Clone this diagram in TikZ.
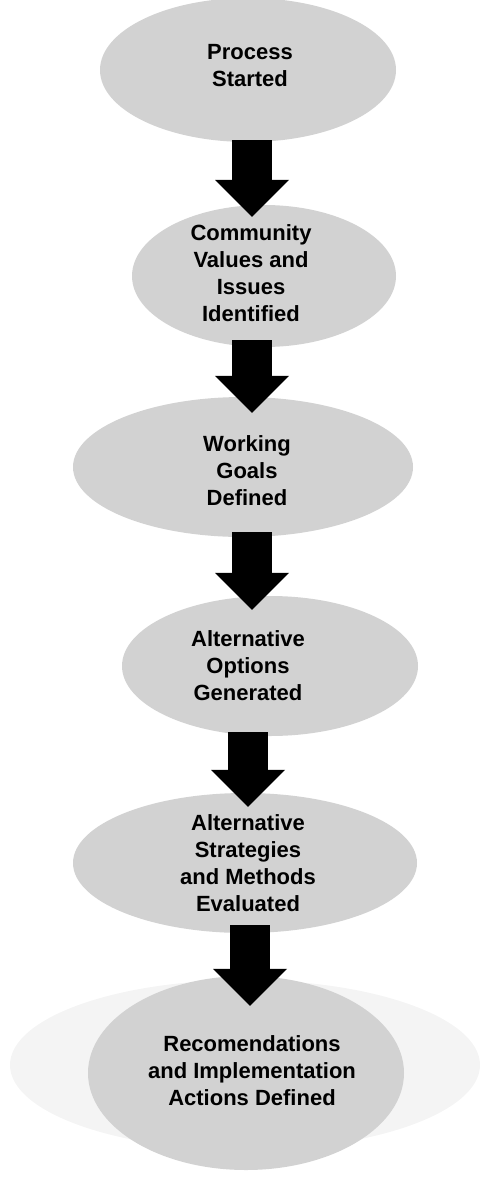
\documentclass[tikz,border=0pt]{standalone}
\usepackage{fontspec}
\setmainfont{Liberation Sans}
\usetikzlibrary{arrows.meta,shapes.geometric,calc}
\begin{document}
\begin{tikzpicture}[x=1pt,y=-1pt,
  blob/.style={ellipse, fill=gray!35, draw=none, inner sep=0pt},
  halo/.style={ellipse, fill=gray!9, draw=none, inner sep=0pt},
  steptext/.style={align=center, font=\bfseries\fontsize{22}{27}\selectfont, inner sep=0pt, text=black},
  bigarrow/.style={draw=black, line width=40pt, line cap=butt, -{Triangle[width=74pt,length=37pt,line width=0pt]}}]
\useasboundingbox (0,0) rectangle (482,1183);
% ellipses
\node[blob, minimum width=296pt, minimum height=144pt] (e1) at (248,70) {};
\node[blob, minimum width=264pt, minimum height=142pt] (e2) at (264,276) {};
\node[blob, minimum width=340pt, minimum height=140pt] (e3) at (243,467) {};
\node[blob, minimum width=296pt, minimum height=140pt] (e4) at (270,666) {};
\node[blob, minimum width=344pt, minimum height=140pt] (e5) at (245,863) {};
\node[halo, minimum width=470pt, minimum height=170pt] (e6h) at (245,1065) {};
\node[blob, minimum width=316pt, minimum height=194pt] (e6) at (246,1073) {};
% texts
\node[steptext] (t1) at (250,66) {Process\\Started};
\node[steptext] (t2) at (251,273) {Community\\Values and\\Issues\\Identified};
\node[steptext] (t3) at (247,471) {Working\\Goals\\Defined};
\node[steptext] (t4) at (248,666) {Alternative\\Options\\Generated};
\node[steptext] (t5) at (248,863) {Alternative\\Strategies\\and Methods\\Evaluated};
\node[steptext] (t6) at (252,1071) {Recomendations\\and Implementation\\Actions Defined};
% arrows
\draw[bigarrow] ($(t1|-e1.south)+(2,-2)$) -- ($(t1|-e2.north)+(2,12)$);
\draw[bigarrow] ($(t2|-e2.south)+(1,-7)$) -- ($(t2|-e3.north)+(1,16)$);
\draw[bigarrow] ($(t3|-e3.south)+(5,-5)$) -- ($(t3|-e4.north)+(5,14)$);
\draw[bigarrow] ($(t4|-e4.south)+(0,-4)$) -- ($(t4|-e5.north)+(0,14)$);
\draw[bigarrow] ($(t5|-e5.south)+(2,-8)$) -- ($(t5|-e6.north)+(2,30)$);
\end{tikzpicture}
\end{document}
